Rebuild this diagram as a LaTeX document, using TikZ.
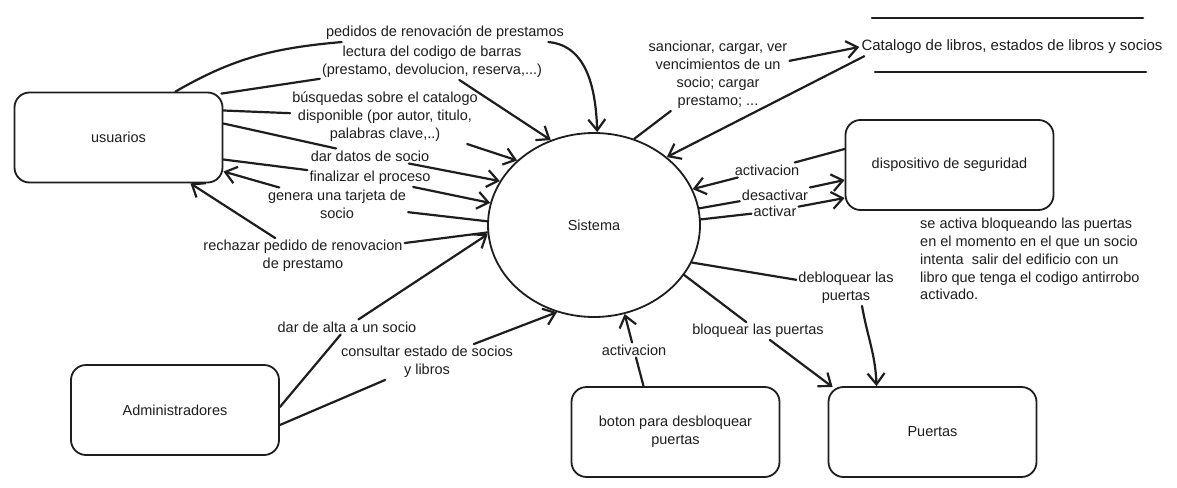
\documentclass[tikz,border=0pt]{standalone}
\usepackage{fontspec}
\setmainfont{Liberation Sans}
\usetikzlibrary{arrows.meta,shapes.geometric,calc}
\definecolor{ink}{HTML}{1E1E1E}
\begin{document}
\begin{tikzpicture}[x=1pt,y=1pt,
  font=\fontsize{14.5}{18}\selectfont,
  box/.style={draw=ink,line width=1.8pt,rounded corners=15pt,minimum width=208pt,minimum height=90pt,align=center,text=ink},
  lbl/.style={align=center,inner sep=2pt,text=ink},
  conn/.style={draw=ink,line width=2.2pt,line cap=round,line join=round},
  arr/.style={conn,-{Straight Barb[length=11pt,width=17pt]}},
  store/.style={draw=ink,line width=2.6pt,line cap=round}]
\fill[white] (0,0) rectangle (1177,-487);
\useasboundingbox (0,0) rectangle (1177,-487);

% main shapes
\node[box] (usr) at (118.5,-137.5) {usuarios};
\node[box] (adm) at (175,-410) {Administradores};
\node[draw=ink,line width=1.8pt,ellipse,minimum width=212pt,minimum height=184pt,inner sep=0pt,text=ink] (sys) at (594,-225) {Sistema};
\node[box] (disp) at (949.5,-165) {dispositivo de seguridad};
\node[box] (bot) at (675.5,-432) {boton para desbloquear\\puertas};
\node[box] (puer) at (932.5,-432) {Puertas};
\node[lbl,font=\fontsize{15}{18}\selectfont] (cat) at (1012,-47) {Catalogo de libros, estados de libros y socios};
\draw[store] (872,-18) -- (1143,-18);
\draw[store] (875,-72) -- (1146,-72);

\node[anchor=north west,align=left,inner sep=0pt,text=ink,font=\fontsize{14.5}{17.8}\selectfont] (note) at (920,-218)
  {se activa bloqueando las puertas\\en el momento en el que un socio\\intenta\ \ salir del edificio con un\\libro que tenga el codigo antirrobo\\activado.};

% labels
\node[lbl] (lPed) at (445,-33) {pedidos de renovación de prestamos};
\node[lbl] (lLec) at (432,-62) {lectura del codigo de barras\\(prestamo, devolucion, reserva,...)};
\node[lbl] (lBus) at (385,-117) {búsquedas sobre el catalogo\\disponible (por autor, titulo,\\palabras clave,..)};
\node[lbl] (lDar) at (370,-156) {dar datos de socio};
\node[lbl] (lFin) at (370,-178) {finalizar el proceso};
\node[lbl] (lGen) at (337,-204) {genera una tarjeta de\\socio};
\node[lbl] (lRec) at (303,-256) {rechazar pedido de renovacion\\de prestamo};
\node[lbl] (lAlta) at (347,-327) {dar de alta a un socio};
\node[lbl] (lCon) at (427,-362) {consultar estado de socios\\y libros};
\node[lbl] (lSan) at (718,-75) {sancionar, cargar, ver\\vencimientos de un\\socio; cargar\\prestamo; ...};
\node[lbl] (lAc1) at (767,-170) {activacion};
\node[lbl] (lDes) at (775,-195) {desactivar};
\node[lbl] (lAcv) at (775,-211) {activar};
\node[lbl] (lDeb) at (846,-288) {debloquear las\\puertas};
\node[lbl] (lBlo) at (758,-331) {bloquear las puertas};
\node[lbl] (lAc2) at (634,-350) {activacion};

% connectors
\draw[arr] ([xshift=-48pt]usr.north east) to[out=30,in=185] (lPed) to[out=-5,in=92] (sys.88);
\draw[arr] ([xshift=-2pt,yshift=-2pt]usr.north east) -- (lLec) -- (sys.117);
\draw[arr] ([yshift=27pt]usr.east) -- (lBus) -- (sys.140);
\draw[arr] ([yshift=14pt]usr.east) -- (lDar) -- (sys.155);
\draw[arr] ([yshift=-22pt]usr.east) -- (lFin) -- (sys.168);
\draw[arr] (sys.178) -- (lGen) -- ([yshift=-34pt]usr.east);
\draw[arr] (sys.184) -- (lRec) -- ([xshift=-33pt]usr.south east);
\draw[arr] ([yshift=3pt]adm.east) -- (lAlta) -- (sys.185);
\draw[arr] ([yshift=-15pt]adm.east) -- (lCon) -- (sys.247);
\draw[arr] (sys.65) -- (lSan) -- (cat.west);
\draw[arr] ([xshift=5pt]cat.south west) -- (sys.43);
\draw[arr] ([yshift=16pt]disp.west) -- (lAc1) -- (sys.20);
\draw[arr] (sys.9) -- (lDes) -- ([yshift=-15pt]disp.west);
\draw[arr] (sys.3) -- (lAcv) -- ([yshift=-33pt]disp.west);
\draw[arr] (sys.339) -- (lDeb) ([xshift=16pt]lDeb.south) to[out=-80,in=92] ([xshift=-56pt]puer.north);
\draw[arr] (sys.331) -- (lBlo) -- ([xshift=5pt,yshift=-1pt]puer.north west);
\draw[arr] ([xshift=-32pt]bot.north) -- (lAc2) -- (sys.289);
\end{tikzpicture}
\end{document}
